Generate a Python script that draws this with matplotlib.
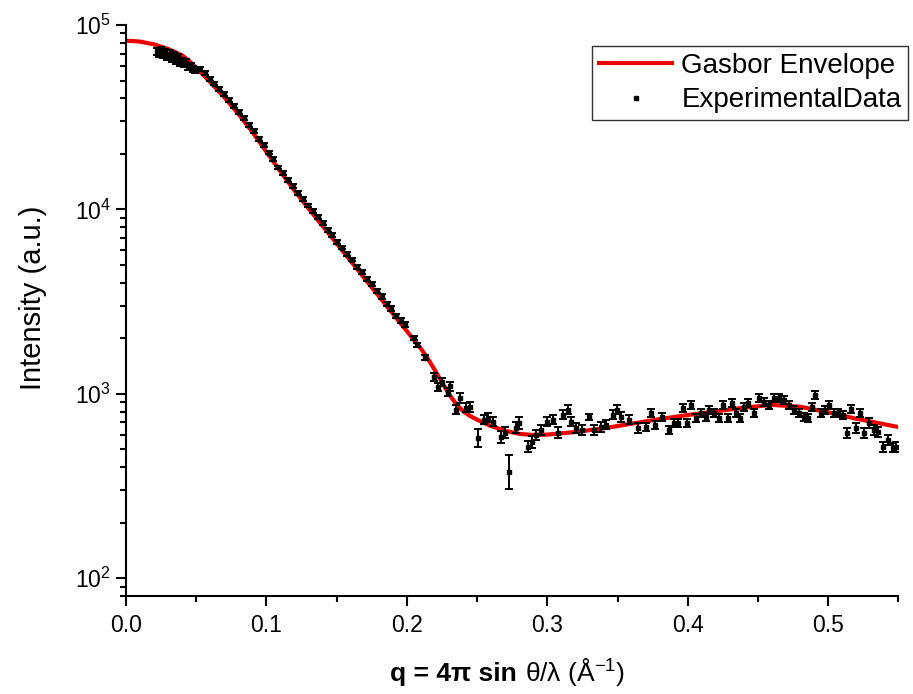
import matplotlib
matplotlib.use("Agg")
import matplotlib.pyplot as plt
import numpy as np
from matplotlib.ticker import MultipleLocator, LogLocator
from matplotlib.offsetbox import TextArea, HPacker, AnchoredOffsetbox

plt.rcParams['font.family'] = ['Liberation Sans', 'DejaVu Sans']
plt.rcParams['mathtext.fontset'] = 'custom'
plt.rcParams['mathtext.rm'] = 'Liberation Sans'
plt.rcParams['mathtext.bf'] = 'Liberation Sans:bold'
plt.rcParams['mathtext.it'] = 'Liberation Sans:italic'

# Gasbor envelope (q in 1/A, log10 intensity)
q_fit = [0.0, 0.01, 0.02, 0.03, 0.04, 0.045, 0.05, 0.06, 0.07, 0.08, 0.09,
         0.10, 0.11, 0.12, 0.13, 0.14, 0.15, 0.16, 0.17, 0.18, 0.19, 0.20,
         0.21, 0.215, 0.22, 0.225, 0.23, 0.235, 0.24, 0.245, 0.25, 0.26,
         0.27, 0.28, 0.29, 0.30, 0.32, 0.34, 0.36, 0.38, 0.40, 0.42, 0.44,
         0.46, 0.48, 0.50, 0.52, 0.55]
logI_fit = [4.915, 4.910, 4.895, 4.870, 4.835, 4.805, 4.768, 4.690, 4.608,
            4.518, 4.420, 4.312, 4.205, 4.102, 4.005, 3.910, 3.815, 3.720,
            3.625, 3.530, 3.435, 3.340, 3.245, 3.190, 3.128, 3.062, 2.998,
            2.946, 2.906, 2.880, 2.860, 2.825, 2.800, 2.783, 2.777, 2.779,
            2.793, 2.813, 2.838, 2.863, 2.885, 2.905, 2.925, 2.940, 2.930,
            2.900, 2.865, 2.820]

# experimental data: q, log10 intensity, error (log10 units)
q_exp = [0.0220, 0.0235, 0.0250, 0.0265, 0.0280, 0.0295, 0.0310, 0.0325,
         0.0340, 0.0355, 0.0370, 0.0385, 0.0400, 0.0415, 0.0430, 0.0445,
         0.0460, 0.0475, 0.0490,
         0.0525, 0.0560, 0.0595, 0.0630, 0.0665, 0.0700, 0.0735, 0.0770,
         0.0805, 0.0840, 0.0875, 0.0910, 0.0945, 0.0980, 0.1015, 0.1050,
         0.1085, 0.1120, 0.1155, 0.1190, 0.1225, 0.1260, 0.1295, 0.1330,
         0.1365, 0.1400, 0.1435, 0.1470, 0.1505, 0.1540, 0.1575, 0.1610,
         0.1645, 0.1680, 0.1715, 0.1750, 0.1785, 0.1820, 0.1855, 0.1890,
         0.1925, 0.1960,
         0.1990, 0.2050, 0.2075, 0.2130, 0.2190, 0.2225, 0.2250, 0.2290,
         0.2310, 0.2347, 0.2380, 0.2420, 0.2450, 0.2510, 0.2547, 0.2577,
         0.2610, 0.2668, 0.2697, 0.2725, 0.2775, 0.2800, 0.2860, 0.2890,
         0.2917, 0.2953, 0.3000, 0.3038, 0.3074, 0.3110, 0.3145, 0.3167,
         0.3203, 0.3250, 0.3295, 0.3330, 0.3380, 0.3417, 0.3467, 0.3495,
         0.3524, 0.3580, 0.3645,
         0.3700, 0.3740, 0.3770, 0.3820, 0.3866, 0.3900, 0.3930, 0.3966,
         0.3994, 0.4023, 0.4058, 0.4094, 0.4130, 0.4150, 0.4187, 0.4220,
         0.4250, 0.4287, 0.4315, 0.4344, 0.4372, 0.4400, 0.4429, 0.4472,
         0.4508, 0.4544, 0.4580, 0.4615, 0.4650, 0.4686, 0.4720, 0.4757,
         0.4790, 0.4829, 0.4857, 0.4886, 0.4907, 0.4950, 0.4979, 0.5007,
         0.5043, 0.5071, 0.5107, 0.5136, 0.5164, 0.5200, 0.5228, 0.5257,
         0.5292, 0.5328, 0.5357, 0.5392, 0.5428, 0.5464, 0.5485]
logI_exp = [4.855, 4.845, 4.860, 4.840, 4.850, 4.830, 4.845, 4.820,
            4.835, 4.810, 4.825, 4.800, 4.805, 4.790, 4.795, 4.775,
            4.780, 4.760, 4.755,
            4.760, 4.738, 4.708, 4.682, 4.652, 4.627, 4.593, 4.562,
            4.528, 4.497, 4.458, 4.427, 4.383, 4.348, 4.308, 4.272,
            4.228, 4.197, 4.158, 4.127, 4.088, 4.058, 4.022, 3.993,
            3.957, 3.928, 3.888, 3.862, 3.822, 3.793, 3.757, 3.728,
            3.688, 3.662, 3.622, 3.597, 3.557, 3.528, 3.488, 3.462,
            3.422, 3.397,
            3.375, 3.304, 3.266, 3.196, 3.092, 3.038, 3.065, 3.010,
            3.040, 2.913, 2.978, 2.924, 2.929, 2.760, 2.859, 2.870,
            2.848, 2.766, 2.788, 2.576, 2.815, 2.842, 2.712, 2.739,
            2.777, 2.804, 2.848, 2.859, 2.788, 2.886, 2.913, 2.848,
            2.815, 2.804, 2.875, 2.804, 2.820, 2.832, 2.886, 2.913,
            2.875, 2.859, 2.815,
            2.820, 2.897, 2.832, 2.875, 2.804, 2.842, 2.842, 2.924,
            2.842, 2.940, 2.870, 2.897, 2.875, 2.913, 2.897, 2.870,
            2.940, 2.870, 2.951, 2.897, 2.870, 2.929, 2.951, 2.897,
            2.978, 2.957, 2.940, 2.978, 2.978, 2.967, 2.940, 2.913,
            2.897, 2.875, 2.870, 2.929, 2.995, 2.897, 2.913, 2.940,
            2.897, 2.897, 2.886, 2.788, 2.918, 2.815, 2.897, 2.788,
            2.842, 2.804, 2.793, 2.712, 2.750, 2.707, 2.712]
err_exp = [0.020, 0.020, 0.020, 0.020, 0.020, 0.020, 0.020, 0.020,
           0.020, 0.020, 0.020, 0.020, 0.018, 0.018, 0.018, 0.018,
           0.016, 0.016, 0.016,
           0.010, 0.010, 0.010, 0.010, 0.010, 0.010, 0.010, 0.010,
           0.010, 0.010, 0.010, 0.010, 0.010, 0.010, 0.010, 0.010,
           0.010, 0.010, 0.010, 0.010, 0.010, 0.010, 0.010, 0.010,
           0.010, 0.010, 0.010, 0.010, 0.010, 0.010, 0.010, 0.010,
           0.012, 0.012, 0.012, 0.012, 0.012, 0.012, 0.012, 0.012,
           0.012, 0.012,
           0.012, 0.012, 0.012, 0.015, 0.020, 0.020, 0.020, 0.022,
           0.022, 0.025, 0.025, 0.025, 0.025, 0.050, 0.025, 0.025,
           0.025, 0.030, 0.030, 0.092, 0.030, 0.030, 0.030, 0.030,
           0.025, 0.025, 0.025, 0.025, 0.030, 0.025, 0.025, 0.025,
           0.025, 0.025, 0.015, 0.025, 0.025, 0.025, 0.025, 0.025,
           0.025, 0.025, 0.025,
           0.022, 0.022, 0.022, 0.022, 0.022, 0.022, 0.022, 0.022,
           0.022, 0.022, 0.022, 0.022, 0.022, 0.022, 0.022, 0.022,
           0.022, 0.022, 0.022, 0.022, 0.022, 0.022, 0.022, 0.022,
           0.022, 0.022, 0.022, 0.022, 0.022, 0.022, 0.022, 0.022,
           0.022, 0.022, 0.022, 0.022, 0.022, 0.022, 0.022, 0.022,
           0.022, 0.022, 0.022, 0.025, 0.022, 0.025, 0.022, 0.025,
           0.025, 0.025, 0.025, 0.025, 0.025, 0.025, 0.025]

q_exp = np.array(q_exp)
I_exp = 10 ** np.array(logI_exp)
lo = I_exp - 10 ** (np.array(logI_exp) - np.array(err_exp))
hi = 10 ** (np.array(logI_exp) + np.array(err_exp)) - I_exp

fig = plt.figure(figsize=(9.13, 6.94), dpi=100)
ax = fig.add_axes([0.138, 0.141, 0.846, 0.823])

ax.plot(q_fit, 10 ** np.array(logI_fit), color='#ee0000', lw=3.0,
        label='Gasbor Envelope', zorder=2)
ax.errorbar(q_exp, I_exp, yerr=[lo, hi], fmt='none', ecolor='black',
            elinewidth=1.4, capsize=3, capthick=1.4, zorder=3)
ax.plot(q_exp, I_exp, 's', color='black', ms=3, ls='none',
        label='ExperimentalData', zorder=4)

ax.set_yscale('log')
ax.set_xlim(0, 0.55)
ax.set_ylim(80, 1e5)
ax.xaxis.set_minor_locator(MultipleLocator(0.05))
ax.yaxis.set_major_locator(LogLocator(base=10, numticks=10))
ax.yaxis.set_minor_locator(LogLocator(base=10, subs=np.arange(2, 10), numticks=10))
ax.set_xticks([0.0, 0.1, 0.2, 0.3, 0.4, 0.5])
ax.set_xticklabels(['0.0', '0.1', '0.2', '0.3', '0.4', '0.5'])

for s in ['top', 'right']:
    ax.spines[s].set_visible(False)
for s in ['left', 'bottom']:
    ax.spines[s].set_linewidth(1.5)
ax.tick_params(which='major', direction='out', length=7, width=1.5,
               labelsize=16.5, pad=6)
ax.tick_params(axis='y', which='major', pad=4)
ax.tick_params(which='minor', direction='out', length=4.5, width=1.5)

ax.set_ylabel('Intensity (a.u.)', fontsize=21)
ax.yaxis.set_label_coords(-0.102, 0.522)

# x label: bold part + regular part side by side
part1 = TextArea('q = 4π sin', textprops=dict(fontsize=19, fontweight='bold'))
part2 = TextArea('θ/λ (Å$^{-1}$)', textprops=dict(fontsize=19))
box = HPacker(children=[part1, part2], align='baseline', pad=0, sep=6)
anch = AnchoredOffsetbox(loc='center', child=box, frameon=False, pad=0,
                         bbox_to_anchor=(0.556, 0.031),
                         bbox_transform=fig.transFigure, borderpad=0)
fig.add_artist(anch)

leg = ax.legend(loc='upper right', bbox_to_anchor=(1.013, 0.963),
                fontsize=20, frameon=True, fancybox=False, edgecolor='black',
                handlelength=2.6, labelspacing=0.3, borderpad=0.25,
                handletextpad=0.35, borderaxespad=0, markerscale=1.0)
leg.get_frame().set_linewidth(1.0)

fig.savefig('out.png', dpi=100)
